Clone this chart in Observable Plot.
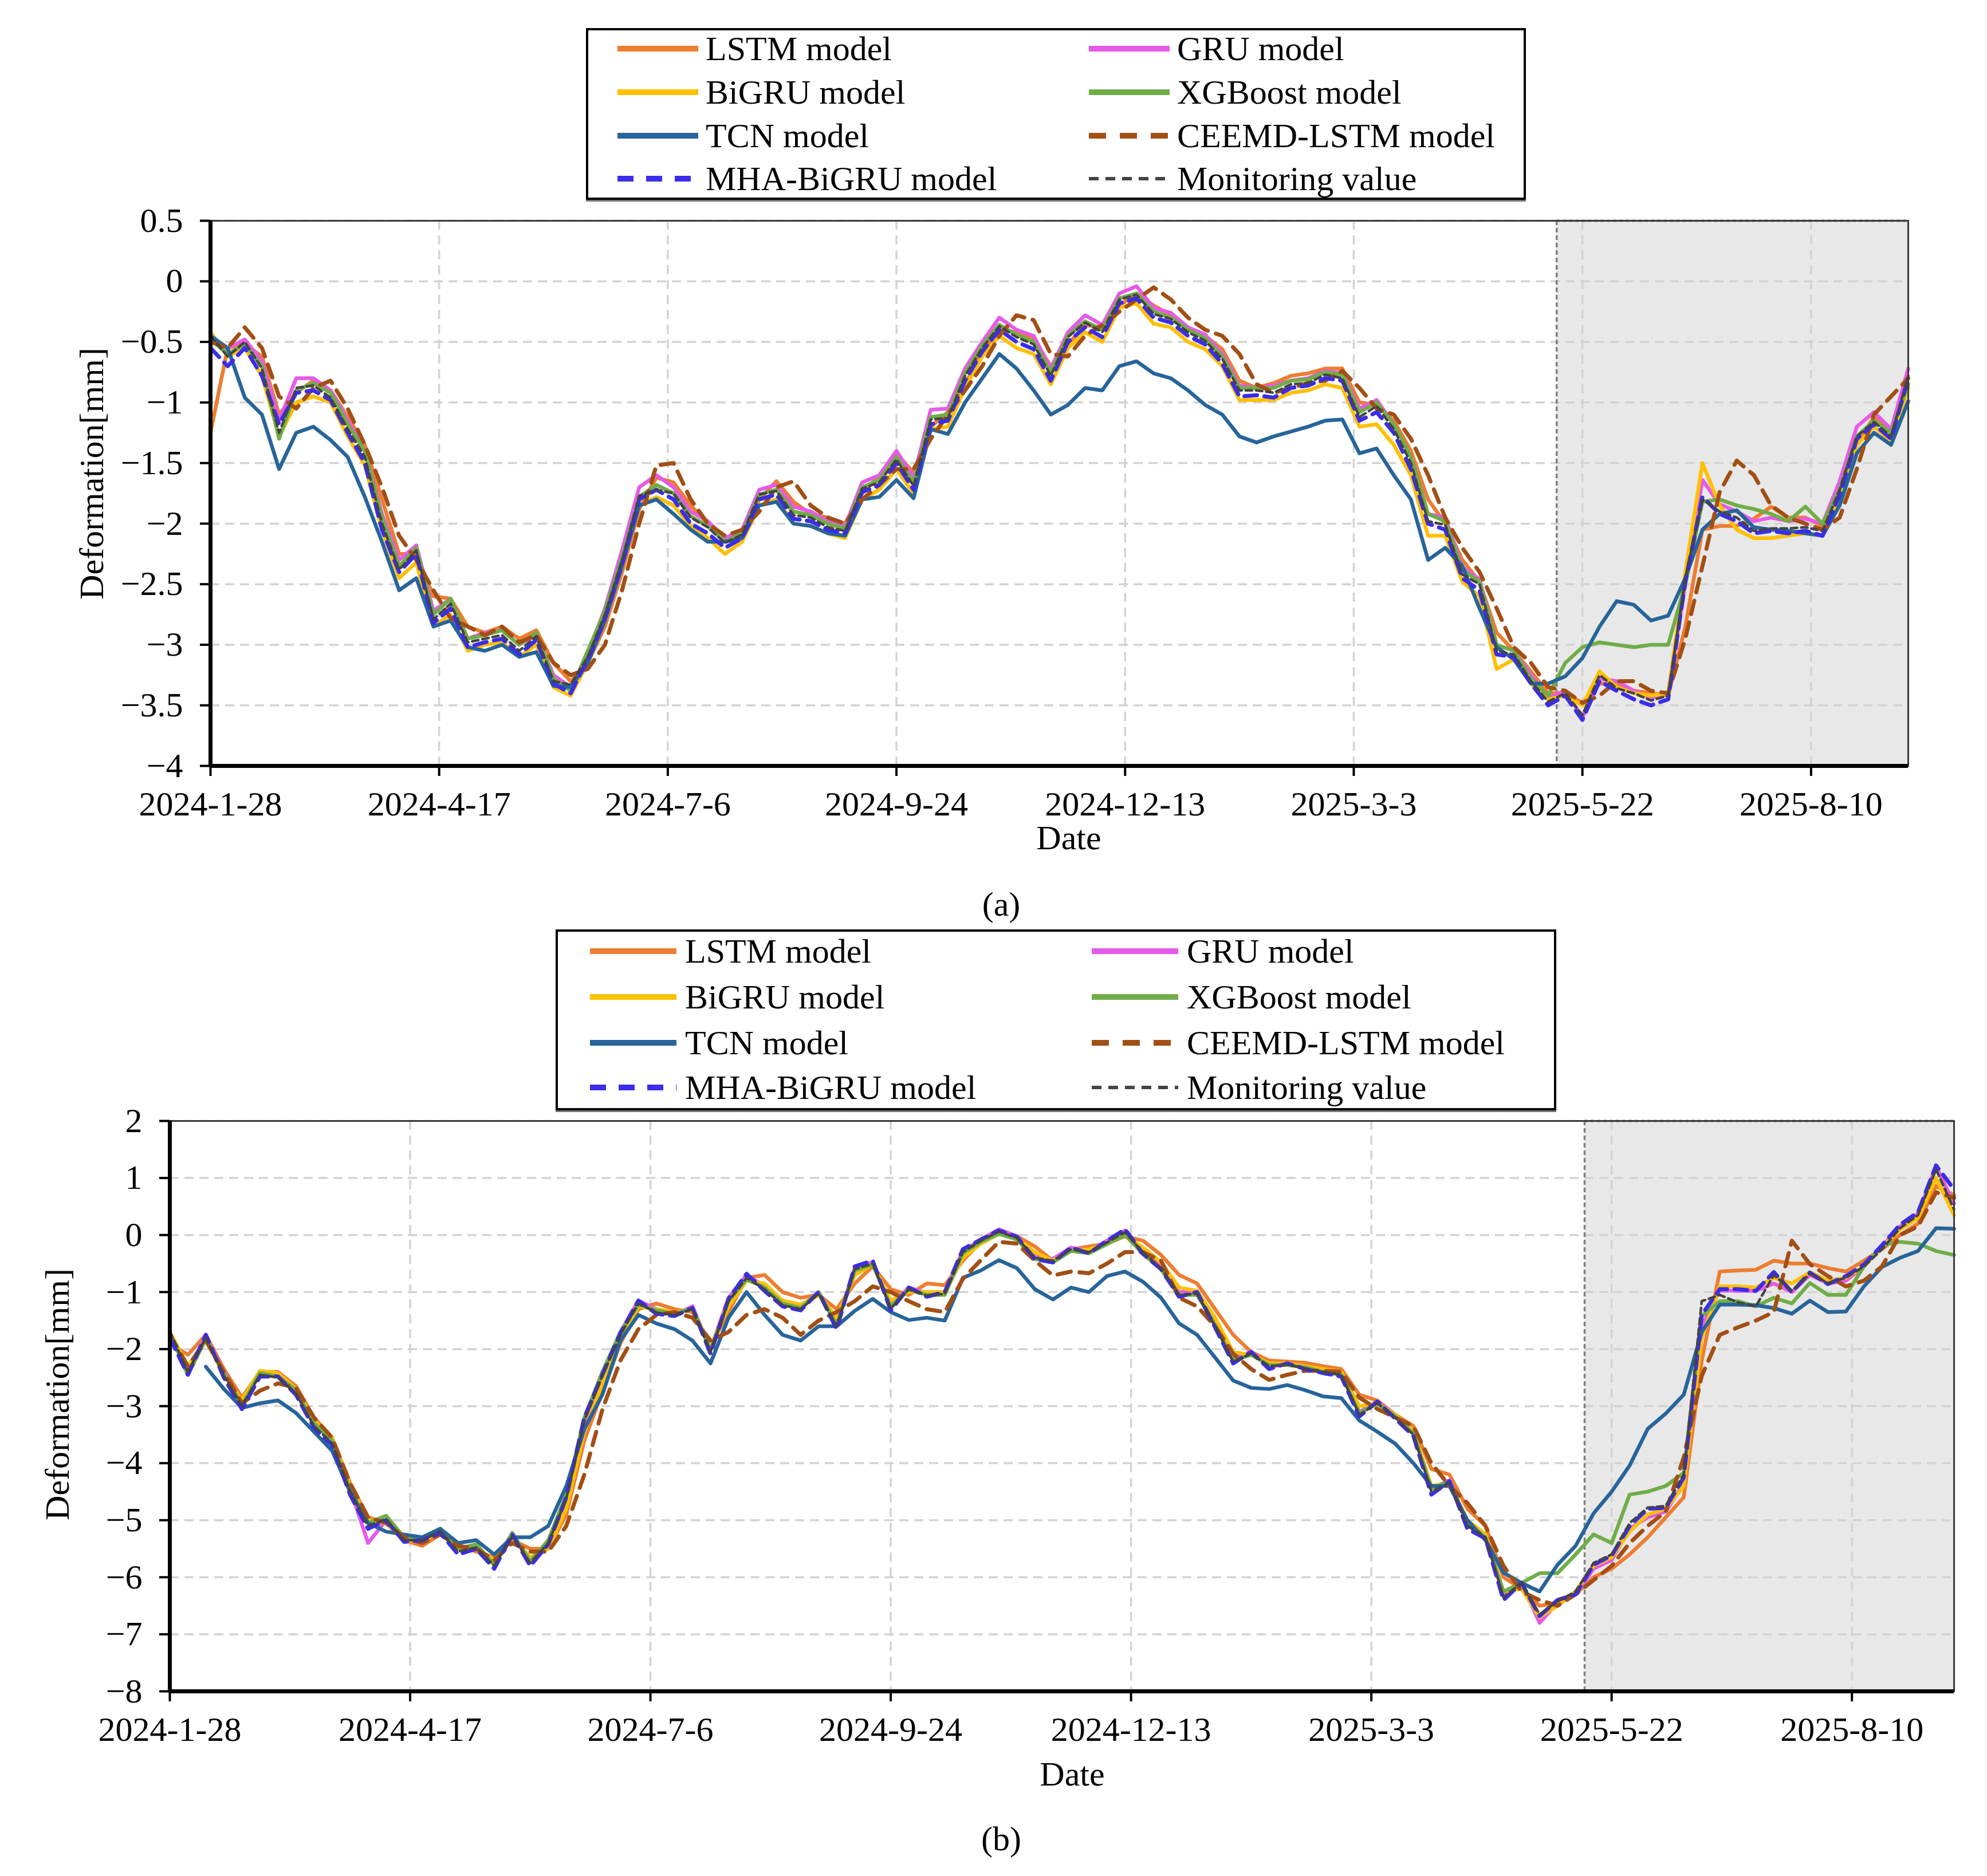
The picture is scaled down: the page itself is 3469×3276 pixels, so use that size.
<!DOCTYPE html>
<html>
<head>
<meta charset="utf-8">
<script src="https://cdn.jsdelivr.net/npm/d3@7"></script>
<script src="https://cdn.jsdelivr.net/npm/@observablehq/plot@0.6"></script>
<style>
  body { margin: 0; background: #fff; }
  #page { position: relative; width: 3469px; height: 3276px; font-family: "Liberation Serif", "Times New Roman", serif; color: #000; overflow: hidden; }
  .abs { position: absolute; left: 0; }
  .legend { position: absolute; border: 4px solid #000; background: #fff; box-sizing: border-box; z-index: 3; box-shadow: 0 3px 0 #777; }
  .lg-item { position: absolute; display: flex; align-items: center; font-size: 60px; line-height: 1; white-space: nowrap; transform: translateY(-50%); }
  .lbl { position: absolute; font-size: 60px; white-space: nowrap; transform: translate(-50%, -50%); line-height: 1; }
  .ylbl { position: absolute; font-size: 60px; white-space: nowrap; transform: translate(-50%, -50%) rotate(-90deg); line-height: 1; }
</style>
</head>
<body>
<div id="page"></div>
<script>
// ---------------- DATA ----------------
const startDate = "2024-01-28";
const endDate = "2025-09-13";
const testStartDate = "2025-05-13";
const xTickLabels = ["2024-01-28", "2024-04-17", "2024-07-06", "2024-09-24", "2024-12-13", "2025-03-03", "2025-05-22", "2025-08-10"];
const yTicksA = [-4, -3.5, -3, -2.5, -2, -1.5, -1, -0.5, 0, 0.5];
const yTicksB = [-8, -7, -6, -5, -4, -3, -2, -1, 0, 1, 2];

// sampling days (offset from 2024-01-28)
const days = [0,6,12,18,24,30,36,42,48,54,60,66,72,78,84,90,96,102,108,114,120,126,132,138,144,150,156,162,168,174,180,186,192,198,204,210,216,222,228,234,240,246,252,258,264,270,276,282,288,294,300,306,312,318,324,330,336,342,348,354,360,366,372,378,384,390,396,402,408,414,420,426,432,438,444,450,456,462,468,474,480,486,492,498,504,510,516,522,528,534,540,546,552,558,564,570,576,582,588,594];

const seriesNames = ["LSTM model", "GRU model", "BiGRU model", "XGBoost model", "TCN model", "CEEMD-LSTM model", "MHA-BiGRU model", "Monitoring value"];
const seriesColors = ["#ed7d31", "#e65ae8", "#ffc000", "#70ad47", "#27649a", "#a24f15", "#3b2de8", "#444444"];
const seriesDash = [null, null, null, null, null, "24,15", "22,13", "11,7"];
const seriesWidth = [6.5, 6.5, 6.5, 6.5, 6.5, 7, 7, 4.5];

// ---- panel (a) ----
const lstm_a = [-1.25,-0.55,-0.52,-0.62,-1.10,-0.92,-0.82,-0.90,-1.12,-1.35,
 -1.80,-2.25,-2.25,-2.60,-2.62,-2.85,-2.90,-2.85,-2.95,-2.88,
 -3.15,-3.30,-3.15,-2.85,-2.40,-1.88,-1.62,-1.66,-1.85,-2.00,
 -2.12,-2.10,-1.80,-1.65,-1.82,-1.92,-1.95,-2.00,-1.75,-1.60,
 -1.42,-1.58,-1.20,-1.08,-0.85,-0.58,-0.40,-0.42,-0.48,-0.70,
 -0.52,-0.36,-0.38,-0.20,-0.10,-0.20,-0.28,-0.38,-0.45,-0.56,
 -0.82,-0.88,-0.84,-0.78,-0.76,-0.72,-0.72,-1.00,-1.02,-1.15,
 -1.40,-1.80,-2.00,-2.30,-2.48,-2.90,-3.05,-3.22,-3.40,-3.40,
 -3.48,-3.32,-3.32,-3.38,-3.40,-3.42,-2.85,-2.05,-2.02,-2.02,
 -1.96,-1.86,-1.95,-1.95,-2.02,-1.80,-1.35,-1.12,-1.25,-0.85];
const gru_a = [-0.50,-0.55,-0.48,-0.66,-1.15,-0.80,-0.80,-0.90,-1.15,-1.40,
 -1.92,-2.30,-2.18,-2.72,-2.62,-2.95,-2.90,-2.88,-3.00,-2.92,
 -3.25,-3.35,-3.08,-2.70,-2.22,-1.70,-1.60,-1.70,-1.90,-1.98,
 -2.12,-2.05,-1.72,-1.68,-1.86,-1.90,-1.98,-2.02,-1.66,-1.60,
 -1.40,-1.62,-1.06,-1.05,-0.72,-0.50,-0.30,-0.40,-0.45,-0.72,
 -0.42,-0.28,-0.36,-0.10,-0.04,-0.22,-0.26,-0.38,-0.44,-0.60,
 -0.86,-0.88,-0.86,-0.82,-0.80,-0.74,-0.76,-1.05,-0.98,-1.18,
 -1.45,-1.92,-1.95,-2.36,-2.46,-3.00,-3.05,-3.25,-3.44,-3.38,
 -3.60,-3.28,-3.30,-3.38,-3.44,-3.40,-2.50,-1.64,-1.84,-1.90,
 -1.98,-1.95,-1.98,-1.96,-2.00,-1.65,-1.20,-1.08,-1.22,-0.72];
const bigru_a = [-0.42,-0.62,-0.55,-0.78,-1.28,-1.00,-0.95,-1.00,-1.28,-1.52,
 -2.05,-2.45,-2.32,-2.85,-2.75,-3.05,-3.00,-2.98,-3.10,-3.00,
 -3.35,-3.42,-3.15,-2.80,-2.35,-1.85,-1.78,-1.85,-2.02,-2.12,
 -2.25,-2.15,-1.85,-1.80,-2.00,-2.02,-2.08,-2.12,-1.80,-1.72,
 -1.55,-1.75,-1.22,-1.20,-0.88,-0.62,-0.45,-0.55,-0.60,-0.85,
 -0.55,-0.42,-0.50,-0.22,-0.18,-0.35,-0.38,-0.50,-0.56,-0.70,
 -0.98,-0.98,-0.98,-0.92,-0.90,-0.85,-0.88,-1.20,-1.18,-1.35,
 -1.60,-2.10,-2.10,-2.48,-2.60,-3.20,-3.12,-3.32,-3.45,-3.42,
 -3.50,-3.22,-3.35,-3.40,-3.42,-3.40,-2.40,-1.50,-1.85,-2.05,
 -2.12,-2.12,-2.10,-2.08,-2.10,-1.80,-1.35,-1.20,-1.32,-0.88];
const xgboost_a = [-0.48,-0.60,-0.52,-0.70,-1.30,-0.90,-0.84,-0.92,-1.18,-1.40,
 -1.95,-2.35,-2.20,-2.75,-2.62,-2.95,-2.92,-2.88,-3.00,-2.90,
 -3.28,-3.38,-3.05,-2.72,-2.28,-1.78,-1.68,-1.75,-1.94,-2.02,
 -2.15,-2.08,-1.76,-1.72,-1.90,-1.93,-2.00,-2.04,-1.70,-1.64,
 -1.45,-1.66,-1.12,-1.10,-0.76,-0.53,-0.36,-0.44,-0.50,-0.75,
 -0.45,-0.33,-0.40,-0.14,-0.10,-0.25,-0.30,-0.40,-0.47,-0.62,
 -0.88,-0.88,-0.88,-0.82,-0.81,-0.75,-0.77,-1.08,-1.00,-1.18,
 -1.45,-1.92,-1.98,-2.38,-2.48,-3.00,-3.05,-3.28,-3.42,-3.15,
 -3.02,-2.98,-3.00,-3.02,-3.00,-3.00,-2.50,-1.82,-1.80,-1.85,
 -1.88,-1.92,-1.98,-1.86,-2.00,-1.72,-1.28,-1.15,-1.25,-0.85];
const tcn_a = [-0.45,-0.55,-0.96,-1.10,-1.55,-1.25,-1.20,-1.31,-1.45,-1.78,
 -2.15,-2.55,-2.45,-2.85,-2.80,-3.02,-3.05,-3.00,-3.10,-3.06,
 -3.34,-3.35,-3.15,-2.80,-2.35,-1.85,-1.80,-1.92,-2.05,-2.15,
 -2.15,-2.12,-1.85,-1.82,-2.00,-2.02,-2.08,-2.10,-1.80,-1.78,
 -1.64,-1.79,-1.22,-1.26,-1.00,-0.80,-0.60,-0.72,-0.90,-1.10,
 -1.02,-0.88,-0.90,-0.70,-0.66,-0.76,-0.80,-0.90,-1.02,-1.10,
 -1.28,-1.33,-1.28,-1.24,-1.20,-1.15,-1.14,-1.42,-1.38,-1.60,
 -1.80,-2.30,-2.20,-2.35,-2.70,-3.02,-3.12,-3.32,-3.32,-3.26,
 -3.11,-2.85,-2.64,-2.67,-2.80,-2.76,-2.45,-2.05,-1.92,-1.89,
 -2.03,-2.05,-2.06,-2.08,-2.10,-1.85,-1.42,-1.25,-1.35,-0.99];
const ceemd_a = [-0.50,-0.55,-0.38,-0.55,-0.95,-1.05,-0.88,-0.82,-1.05,-1.35,
 -1.70,-2.10,-2.30,-2.55,-2.78,-2.85,-2.92,-2.85,-2.98,-2.92,
 -3.15,-3.25,-3.20,-3.00,-2.55,-2.00,-1.52,-1.50,-1.80,-2.00,
 -2.10,-2.05,-1.90,-1.70,-1.65,-1.85,-1.95,-2.00,-1.80,-1.68,
 -1.55,-1.55,-1.30,-1.10,-0.90,-0.70,-0.45,-0.28,-0.32,-0.60,
 -0.62,-0.45,-0.36,-0.25,-0.15,-0.05,-0.15,-0.30,-0.40,-0.45,
 -0.60,-0.85,-0.92,-0.88,-0.84,-0.82,-0.74,-0.88,-1.05,-1.10,
 -1.30,-1.60,-1.95,-2.20,-2.40,-2.70,-3.02,-3.15,-3.35,-3.38,
 -3.48,-3.42,-3.30,-3.30,-3.38,-3.40,-2.95,-2.35,-1.74,-1.48,
 -1.60,-1.85,-1.95,-2.00,-2.05,-1.95,-1.55,-1.10,-0.95,-0.80];
const mha_a = [-0.55,-0.70,-0.55,-0.78,-1.18,-0.92,-0.90,-0.98,-1.25,-1.50,
 -2.05,-2.40,-2.25,-2.82,-2.70,-3.02,-2.98,-2.95,-3.08,-2.96,
 -3.32,-3.40,-3.12,-2.78,-2.33,-1.80,-1.72,-1.80,-2.00,-2.08,
 -2.20,-2.12,-1.80,-1.76,-1.96,-1.98,-2.05,-2.08,-1.74,-1.68,
 -1.50,-1.72,-1.18,-1.15,-0.82,-0.58,-0.40,-0.50,-0.56,-0.82,
 -0.50,-0.38,-0.46,-0.18,-0.14,-0.30,-0.34,-0.45,-0.52,-0.68,
 -0.95,-0.94,-0.96,-0.88,-0.86,-0.80,-0.82,-1.15,-1.08,-1.25,
 -1.55,-2.00,-2.05,-2.45,-2.55,-3.08,-3.10,-3.32,-3.50,-3.42,
 -3.62,-3.30,-3.38,-3.45,-3.50,-3.45,-2.48,-1.78,-1.92,-1.98,
 -2.08,-2.06,-2.08,-2.06,-2.10,-1.76,-1.30,-1.18,-1.30,-0.80];
const monitoring_a = [-0.45,-0.62,-0.50,-0.72,-1.25,-0.88,-0.86,-0.96,-1.22,-1.45,
 -2.00,-2.38,-2.22,-2.79,-2.66,-2.98,-2.95,-2.92,-3.05,-2.93,
 -3.30,-3.33,-3.10,-2.75,-2.30,-1.77,-1.72,-1.75,-1.95,-2.03,
 -2.16,-2.09,-1.76,-1.73,-1.93,-1.95,-2.03,-2.06,-1.71,-1.66,
 -1.47,-1.69,-1.14,-1.13,-0.78,-0.55,-0.37,-0.46,-0.52,-0.78,
 -0.46,-0.34,-0.42,-0.15,-0.11,-0.27,-0.31,-0.42,-0.49,-0.64,
 -0.90,-0.90,-0.92,-0.85,-0.84,-0.77,-0.80,-1.12,-1.03,-1.22,
 -1.50,-1.98,-2.01,-2.42,-2.50,-3.05,-3.08,-3.30,-3.47,-3.40,
 -3.58,-3.25,-3.36,-3.40,-3.46,-3.42,-2.45,-1.80,-1.90,-1.95,
 -2.06,-2.04,-2.04,-2.03,-2.06,-1.72,-1.28,-1.16,-1.28,-0.78];

// ---- panel (b) ----
const lstm_b = [-1.90,-2.10,-1.75,-2.35,-2.85,-2.40,-2.40,-2.65,-3.20,-3.55,
 -4.35,-4.95,-5.05,-5.35,-5.45,-5.25,-5.45,-5.55,-5.65,-5.35,
 -5.50,-5.50,-4.90,-3.60,-2.75,-1.90,-1.30,-1.20,-1.30,-1.35,
 -1.95,-1.35,-0.75,-0.70,-1.00,-1.10,-1.05,-1.30,-0.85,-0.55,
 -0.95,-1.05,-0.85,-0.88,-0.45,-0.12,0.05,-0.02,-0.20,-0.45,
 -0.25,-0.20,-0.15,-0.02,-0.10,-0.35,-0.70,-0.85,-1.30,-1.75,
 -2.05,-2.20,-2.22,-2.24,-2.30,-2.35,-2.80,-2.90,-3.15,-3.35,
 -4.10,-4.20,-4.80,-5.10,-6.00,-6.20,-6.50,-6.45,-6.30,-6.00,
 -5.85,-5.60,-5.30,-4.95,-4.60,-2.20,-0.64,-0.62,-0.61,-0.45,
 -0.50,-0.50,-0.58,-0.64,-0.45,-0.25,0.00,0.20,0.86,0.70];
const gru_b = [-1.75,-2.35,-1.78,-2.40,-2.95,-2.42,-2.45,-2.75,-3.30,-3.62,
 -4.45,-5.40,-5.00,-5.30,-5.32,-5.15,-5.50,-5.45,-5.75,-5.25,
 -5.70,-5.45,-4.70,-3.30,-2.50,-1.70,-1.15,-1.30,-1.40,-1.25,
 -2.00,-1.10,-0.70,-0.90,-1.20,-1.28,-1.00,-1.55,-0.58,-0.48,
 -1.25,-0.92,-1.02,-1.00,-0.28,-0.08,0.10,-0.02,-0.38,-0.42,
 -0.22,-0.28,-0.10,0.08,-0.28,-0.55,-1.00,-1.00,-1.55,-2.15,
 -2.05,-2.32,-2.25,-2.30,-2.38,-2.42,-3.10,-2.92,-3.15,-3.48,
 -4.45,-4.30,-5.05,-5.28,-6.30,-6.10,-6.80,-6.45,-6.30,-5.85,
 -5.70,-5.15,-4.95,-4.85,-4.35,-1.60,-0.97,-0.98,-0.98,-0.85,
 -1.00,-0.70,-0.85,-0.80,-0.55,-0.20,0.15,0.38,1.20,0.55];
const bigru_b = [-1.70,-2.30,-1.85,-2.45,-2.90,-2.38,-2.42,-2.70,-3.25,-3.55,
 -4.40,-5.00,-5.05,-5.35,-5.38,-5.18,-5.50,-5.50,-5.70,-5.30,
 -5.65,-5.50,-4.80,-3.45,-2.60,-1.85,-1.25,-1.30,-1.35,-1.30,
 -1.95,-1.25,-0.80,-0.85,-1.15,-1.22,-1.05,-1.45,-0.70,-0.52,
 -1.15,-1.00,-1.00,-1.00,-0.40,-0.15,0.02,-0.05,-0.30,-0.45,
 -0.28,-0.25,-0.15,0.00,-0.22,-0.48,-0.92,-0.98,-1.45,-2.05,
 -2.10,-2.25,-2.25,-2.30,-2.35,-2.40,-3.00,-2.95,-3.15,-3.45,
 -4.40,-4.35,-5.00,-5.25,-6.25,-6.20,-6.70,-6.50,-6.25,-5.80,
 -5.65,-5.20,-4.90,-4.80,-4.40,-1.80,-0.90,-0.90,-0.92,-0.75,
 -0.85,-0.65,-0.80,-0.75,-0.55,-0.22,0.10,0.30,1.00,0.35];
const xgboost_b = [-1.72,-2.45,-1.82,-2.42,-2.98,-2.42,-2.48,-2.72,-3.30,-3.60,
 -4.45,-5.05,-4.92,-5.30,-5.30,-5.15,-5.50,-5.42,-5.78,-5.22,
 -5.72,-5.35,-4.55,-3.20,-2.40,-1.70,-1.22,-1.32,-1.38,-1.28,
 -2.02,-1.15,-0.78,-0.92,-1.20,-1.28,-1.00,-1.58,-0.62,-0.52,
 -1.25,-0.95,-1.05,-1.05,-0.32,-0.12,0.02,-0.08,-0.42,-0.48,
 -0.28,-0.32,-0.16,0.00,-0.33,-0.60,-1.05,-1.05,-1.58,-2.20,
 -2.10,-2.28,-2.28,-2.32,-2.40,-2.45,-3.12,-2.95,-3.18,-3.48,
 -4.45,-4.32,-5.05,-5.30,-6.25,-6.10,-5.93,-5.93,-5.60,-5.25,
 -5.40,-4.55,-4.50,-4.40,-4.17,-1.42,-1.16,-1.16,-1.25,-1.10,
 -1.20,-0.84,-1.05,-1.05,-0.55,-0.18,-0.12,-0.15,-0.28,-0.35];
const tcn_b = [null,null,-2.31,-2.70,-3.03,-2.95,-2.90,-3.12,-3.45,-3.78,
 -4.50,-5.05,-5.20,-5.25,-5.30,-5.15,-5.40,-5.35,-5.60,-5.30,
 -5.30,-5.10,-4.40,-3.40,-2.80,-1.85,-1.40,-1.55,-1.65,-1.85,
 -2.25,-1.45,-1.00,-1.40,-1.75,-1.85,-1.60,-1.60,-1.33,-1.12,
 -1.35,-1.49,-1.45,-1.50,-0.75,-0.62,-0.44,-0.58,-0.95,-1.13,
 -0.92,-1.00,-0.72,-0.64,-0.82,-1.10,-1.55,-1.75,-2.15,-2.55,
 -2.68,-2.70,-2.63,-2.72,-2.83,-2.86,-3.25,-3.45,-3.66,-4.00,
 -4.40,-4.40,-5.00,-5.35,-5.92,-6.10,-6.25,-5.78,-5.45,-4.88,
 -4.50,-4.04,-3.40,-3.13,-2.80,-1.70,-1.22,-1.22,-1.23,-1.28,
 -1.38,-1.15,-1.35,-1.34,-0.90,-0.56,-0.40,-0.28,0.12,0.11];
const ceemd_b = [-1.75,-2.30,-1.85,-2.40,-2.95,-2.73,-2.60,-2.68,-3.20,-3.55,
 -4.35,-4.95,-5.05,-5.30,-5.40,-5.25,-5.45,-5.50,-5.70,-5.40,
 -5.55,-5.55,-5.10,-4.20,-3.06,-2.20,-1.65,-1.40,-1.35,-1.45,
 -1.85,-1.70,-1.40,-1.30,-1.45,-1.75,-1.50,-1.35,-1.16,-0.90,
 -1.00,-1.16,-1.30,-1.35,-0.77,-0.44,-0.12,-0.15,-0.45,-0.71,
 -0.64,-0.67,-0.50,-0.30,-0.30,-0.45,-1.10,-1.25,-1.60,-2.08,
 -2.35,-2.54,-2.45,-2.38,-2.38,-2.40,-2.85,-3.05,-3.20,-3.35,
 -4.00,-4.40,-4.70,-5.10,-5.80,-6.25,-6.40,-6.50,-6.30,-6.05,
 -5.80,-5.40,-5.10,-4.85,-3.90,-2.47,-1.75,-1.62,-1.50,-1.35,
 -0.10,-0.51,-0.72,-0.90,-0.80,-0.55,0.00,0.15,0.75,0.65];
const mha_b = [-1.80,-2.45,-1.75,-2.50,-3.05,-2.48,-2.48,-2.80,-3.38,-3.68,
 -4.55,-5.15,-5.00,-5.38,-5.35,-5.22,-5.60,-5.50,-5.85,-5.25,
 -5.80,-5.42,-4.60,-3.20,-2.45,-1.72,-1.15,-1.38,-1.42,-1.28,
 -2.08,-1.12,-0.68,-0.98,-1.25,-1.32,-1.00,-1.65,-0.55,-0.45,
 -1.32,-0.92,-1.08,-1.00,-0.25,-0.08,0.08,-0.03,-0.42,-0.48,
 -0.22,-0.32,-0.10,0.10,-0.33,-0.60,-1.08,-1.00,-1.62,-2.25,
 -2.05,-2.35,-2.25,-2.35,-2.42,-2.48,-3.18,-2.92,-3.22,-3.52,
 -4.55,-4.32,-5.15,-5.32,-6.40,-6.10,-6.68,-6.40,-6.30,-5.78,
 -5.62,-5.10,-4.80,-4.78,-4.25,-1.40,-0.95,-0.95,-0.98,-0.65,
 -1.00,-0.66,-0.86,-0.72,-0.52,-0.18,0.18,0.40,1.22,0.80];
const monitoring_b = [-1.69,-2.40,-1.80,-2.47,-3.00,-2.45,-2.50,-2.78,-3.35,-3.65,
 -4.50,-5.10,-4.98,-5.35,-5.35,-5.20,-5.55,-5.48,-5.80,-5.28,
 -5.75,-5.40,-4.62,-3.25,-2.47,-1.75,-1.20,-1.36,-1.40,-1.30,
 -2.05,-1.16,-0.75,-0.95,-1.23,-1.30,-1.03,-1.60,-0.60,-0.50,
 -1.29,-0.95,-1.06,-1.03,-0.30,-0.10,0.06,-0.05,-0.40,-0.45,
 -0.25,-0.30,-0.13,0.05,-0.31,-0.58,-1.05,-1.03,-1.60,-2.22,
 -2.08,-2.30,-2.27,-2.34,-2.40,-2.45,-3.15,-2.95,-3.20,-3.50,
 -4.50,-4.35,-5.10,-5.30,-6.35,-6.10,-6.65,-6.42,-6.25,-5.75,
 -5.60,-5.05,-4.78,-4.75,-4.20,-1.16,-1.05,-1.18,-1.25,-0.70,
 -0.98,-0.68,-0.84,-0.75,-0.55,-0.25,0.12,0.35,1.15,0.45];

const panelA = [lstm_a, gru_a, bigru_a, xgboost_a, tcn_a, ceemd_a, mha_a, monitoring_a];
const panelB = [lstm_b, gru_b, bigru_b, xgboost_b, tcn_b, ceemd_b, mha_b, monitoring_b];

// ---------------- HELPERS ----------------
const parse = d3.utcParse("%Y-%m-%d");
const t0 = parse(startDate), t1 = parse(endDate), tTest = parse(testStartDate);
const xTicks = xTickLabels.map(parse);
const dayToDate = d => new Date(+t0 + d * 864e5);
const fmtX = d3.utcFormat("%Y-%-m-%-d");
const fmtY = d => (d < 0 ? "\u2212" : "") + Math.abs(d);

function chart(values, yDomain, yTicks, m, h) {
  const marks = [];
  marks.push(Plot.rect([[tTest, t1]], {x1: d => d[0], x2: d => d[1], y1: yDomain[0], y2: yDomain[1], fill: "#e8e8e8"}));
  marks.push(Plot.ruleX(xTicks, {stroke: "#d3d3d3", strokeWidth: 3.5, strokeDasharray: "16,10"}));
  marks.push(Plot.ruleY(yTicks, {stroke: "#d3d3d3", strokeWidth: 3.5, strokeDasharray: "16,10"}));
  marks.push(Plot.ruleX([tTest], {stroke: "#808080", strokeWidth: 3.5, strokeDasharray: "8,5"}));
  marks.push(Plot.ruleY([yDomain[1]], {x1: tTest, x2: t1, stroke: "#808080", strokeWidth: 4, strokeDasharray: "6,5"}));
  values.forEach((arr, k) => {
    const data = days.map((d, i) => ({date: dayToDate(d), value: arr[i]}));
    marks.push(Plot.lineY(data, {
      x: "date", y: "value",
      stroke: seriesColors[k], strokeWidth: seriesWidth[k],
      strokeDasharray: seriesDash[k] || undefined,
      strokeLinejoin: "round"
    }));
  });
  marks.push(Plot.frame({stroke: "#3a3a3a", strokeWidth: 3}));
  marks.push(Plot.ruleX([t0], {stroke: "#000", strokeWidth: 7}));
  marks.push(Plot.ruleY([yDomain[0]], {stroke: "#000", strokeWidth: 7}));
  marks.push(Plot.axisX({ticks: xTicks, tickFormat: fmtX, tickSize: 18, tickPadding: 26, strokeWidth: 4, label: null}));
  marks.push(Plot.axisY({ticks: yTicks, tickFormat: fmtY, tickSize: 18, tickPadding: 30, strokeWidth: 4, label: null}));
  return Plot.plot({
    width: 3469, height: h,
    marginTop: m[0], marginRight: m[1], marginBottom: m[2], marginLeft: m[3],
    style: {fontFamily: "Liberation Serif, Times New Roman, serif", fontSize: "60px", background: "transparent", color: "#000", overflow: "visible"},
    x: {type: "utc", domain: [t0, t1]},
    y: {domain: yDomain},
    marks
  });
}

function legend(left, top, w, h, rows, col1Swatch, col2Swatch, swW, gap) {
  const box = document.createElement("div");
  box.className = "legend";
  Object.assign(box.style, {left: left + "px", top: top + "px", width: w + "px", height: h + "px"});
  seriesNames.forEach((name, k) => {
    const row = Math.floor(k / 2), col = k % 2;
    const item = document.createElement("div");
    item.className = "lg-item";
    item.style.left = (col === 0 ? col1Swatch : col2Swatch) + "px";
    item.style.top = rows[row] + "px";
    const dash = k === 5 ? "30,24" : k === 6 ? "28,22" : k === 7 ? "17,12" : "";
    const sw = k === 7 ? 6 : 10;
    item.innerHTML = `<svg width="${swW}" height="20" style="display:block"><line x1="0" y1="10" x2="${swW}" y2="10" stroke="${seriesColors[k]}" stroke-width="${sw}" ${dash ? `stroke-dasharray="${dash}"` : ""}/></svg><span style="margin-left:${gap}px">${name}</span>`;
    box.appendChild(item);
  });
  return box;
}

function label(text, x, y, cls) {
  const el = document.createElement("div");
  el.className = cls || "lbl";
  el.textContent = text;
  el.style.left = x + "px";
  el.style.top = y + "px";
  return el;
}

// ---------------- BUILD ----------------
const page = document.getElementById("page");

const wrapA = document.createElement("div");
wrapA.className = "abs"; wrapA.style.top = "330px";
wrapA.appendChild(chart(panelA, [-4, 0.5], yTicksA, [55, 138, 183, 367], 1190));
page.appendChild(wrapA);

const wrapB = document.createElement("div");
wrapB.className = "abs"; wrapB.style.top = "1900px";
wrapB.appendChild(chart(panelB, [-8, 2], yTicksB, [57, 58, 187, 296], 1240));
page.appendChild(wrapB);

page.appendChild(legend(1023, 49, 1641, 300, [32, 108, 184, 259], 51, 874, 141, 13));
page.appendChild(legend(970, 1623, 1747, 316, [34, 114, 194, 272], 56, 932, 151, 15));

page.appendChild(label("Deformation[mm]", 160, 827, "ylbl"));
page.appendChild(label("Deformation[mm]", 100, 2435, "ylbl"));
page.appendChild(label("Date", 1866, 1463));
page.appendChild(label("Date", 1872, 3098));
page.appendChild(label("(a)", 1748, 1579));
page.appendChild(label("(b)", 1748, 3211));
</script>
</body>
</html>
